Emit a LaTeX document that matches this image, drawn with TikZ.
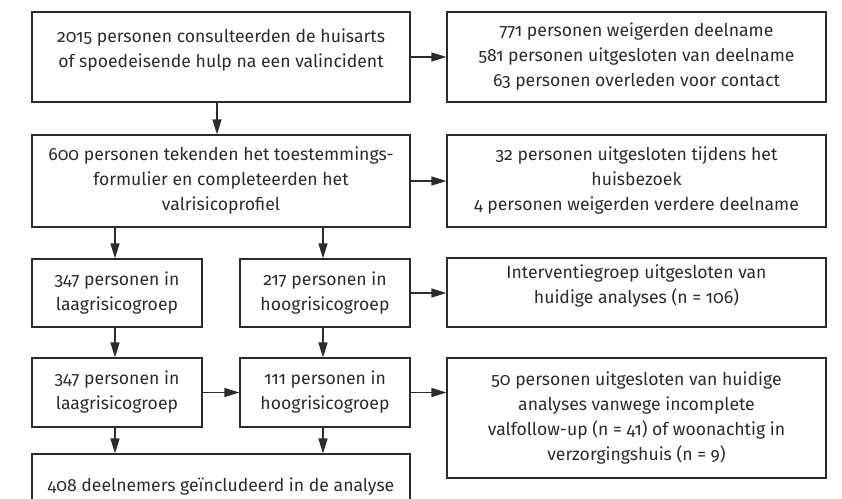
\documentclass[tikz,border=0pt]{standalone}
\usepackage{fontspec}
\setmainfont{Fira Sans}[Numbers=OldStyle]
\usetikzlibrary{arrows.meta}
\definecolor{ink}{HTML}{2B2B2B}
\tikzset{
  box/.style={draw=ink, line width=1.2pt, align=center, inner sep=0pt, text=ink,
    font=\fontsize{17.6}{25}\selectfont},
  arr/.style={draw=ink, line width=1.2pt, -{Triangle[length=15pt,width=9pt]}},
}
\begin{document}
\begin{tikzpicture}[x=1pt,y=-1pt]
\useasboundingbox (0,0) rectangle (842,498);
\clip (0,0) rectangle (842,498);
\node[box, minimum width=378pt, minimum height=90pt] (A) at (221,57)
  {2015 personen consulteerden de huisarts\\of spoedeisende hulp na een valincident\\[-7pt]\mbox{}};
\node[box, minimum width=379pt, minimum height=90pt] (R1) at (636.5,57)
  {771 personen weigerden deelname\\581 personen uitgesloten van deelname\\63 personen overleden voor contact};
\node[box, minimum width=378pt, minimum height=92pt] (B) at (221,181)
  {600 personen tekenden het toestemmings-\\formulier en completeerden het\\valrisicoprofiel};
\node[box, minimum width=379pt, minimum height=92pt] (R2) at (636.5,181)
  {32 personen uitgesloten tijdens het\\huisbezoek\\4 personen weigerden verdere deelname};
\node[box, minimum width=170pt, minimum height=68pt] (C1) at (117,293)
  {347 personen in\\laagrisicogroep};
\node[box, minimum width=170pt, minimum height=68pt] (C2) at (325,293)
  {217 personen in\\hoogrisicogroep};
\node[box, minimum width=379pt, minimum height=69pt] (R3) at (636.5,292.5)
  {Interventiegroep uitgesloten van\\huidige analyses (n = 106)\\[-8pt]\mbox{}};
\node[box, minimum width=170pt, minimum height=69pt] (D1) at (117,392.5)
  {347 personen in\\laagrisicogroep};
\node[box, minimum width=170pt, minimum height=69pt] (D2) at (325,392.5)
  {111 personen in\\hoogrisicogroep};
\node[box, minimum width=379pt, minimum height=120pt] (R4) at (636.5,418)
  {50 personen uitgesloten van huidige\\analyses vanwege incomplete\\valfollow-up (n = 41) of woonachtig in\\verzorgingshuis (n = 9)};
\node[box, minimum width=378pt, minimum height=66pt] (E) at (221,487)
  {408 deelnemers geïncludeerd in de analyse};
\draw[arr] (A) -- (R1);
\draw[arr] (B.east) -- (B.east -| R2.west);
\draw[arr] (C2.east) -- (C2.east -| R3.west);
\draw[arr] (D1) -- (D2);
\draw[arr] (D2.east) -- (D2.east -| R4.west);
\draw[arr] ([xshift=-4pt]A.south) -- ([xshift=-4pt]A.south |- B.north);
\draw[arr] ([xshift=-2pt]C1.north |- B.south) -- ([xshift=-2pt]C1.north);
\draw[arr] ([xshift=-2pt]C2.north |- B.south) -- ([xshift=-2pt]C2.north);
\draw[arr] ([xshift=-2pt]C1.south) -- ([xshift=-2pt]D1.north);
\draw[arr] ([xshift=-2pt]C2.south) -- ([xshift=-2pt]D2.north);
\draw[arr] ([xshift=-2pt]D1.south) -- ([xshift=-2pt]D1.south |- E.north);
\draw[arr] ([xshift=-2pt]D2.south) -- ([xshift=-2pt]D2.south |- E.north);
\end{tikzpicture}
\end{document}
